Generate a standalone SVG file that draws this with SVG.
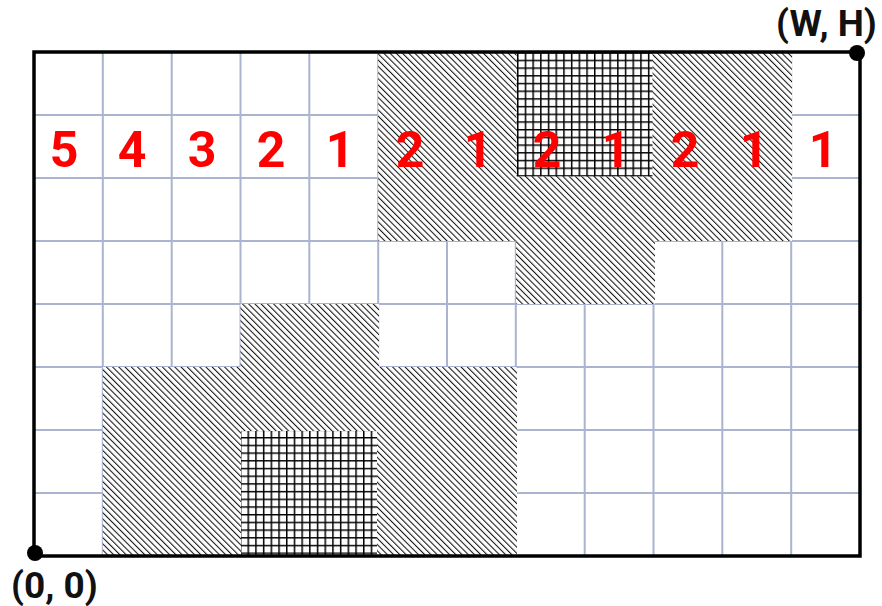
<svg xmlns="http://www.w3.org/2000/svg" width="882" height="606" viewBox="0 0 882 606">
<style>
.grid{stroke:#aab3d0;stroke-width:2;fill:none}
.diag{fill:url(#diag)}
.cross{fill:url(#cross)}
.num{font-family:Roboto,"Liberation Sans",sans-serif;font-weight:bold;font-size:50px;fill:#ff0000;text-anchor:middle}
.lbl{font-family:Roboto,"Liberation Sans",sans-serif;font-weight:bold;font-size:37px;fill:#111}
</style>
<defs>
<pattern id="diag" patternUnits="userSpaceOnUse" width="4.4" height="4.4" patternTransform="rotate(-45)">
<rect width="4.4" height="4.4" fill="#fff"/>
<line x1="0" y1="0" x2="0" y2="4.4" stroke="#111" stroke-width="2.1"/>
</pattern>
<pattern id="cross" patternUnits="userSpaceOnUse" width="7.7" height="7.7" x="517" y="52">
<rect width="7.7" height="7.7" fill="#fff"/>
<path d="M0 0V7.7M0 0H7.7" stroke="#000" stroke-width="3"/>
</pattern>
</defs>
<rect x="34" y="52" width="826" height="504" fill="#fff"/>
<g id="grid" class="grid">
<path d="M102.8 52V556M171.7 52V556M240.5 52V556M309.3 52V556M378.2 52V556M447 52V556M515.8 52V556M584.7 52V556M653.5 52V556M722.3 52V556M791.2 52V556"/>
<path d="M34 115H860M34 178H860M34 241H860M34 304H860M34 367H860M34 430H860M34 493H860"/>
</g>
<g id="top-region">
<path class="diag" d="M378.2 52H792V241H655V304H516V241H378.2Z"/>
<rect class="cross" x="516.5" y="52" width="136" height="124.5"/>
</g>
<g id="bottom-region">
<path class="diag" d="M240.5 304H379V367H517V556H102.8V367H240.5Z"/>
<rect class="cross" x="241" y="431" width="136" height="125"/>
</g>
<g id="numbers">
<text class="num" x="64" y="167">5</text>
<text class="num" x="132" y="167">4</text>
<text class="num" x="202" y="167">3</text>
<text class="num" x="271" y="167">2</text>
<text class="num" x="340" y="167">1</text>
<text class="num" x="410" y="167">2</text>
<text class="num" x="478" y="167">1</text>
<text class="num" x="547" y="167">2</text>
<text class="num" x="616" y="167">1</text>
<text class="num" x="685" y="167">2</text>
<text class="num" x="754" y="167">1</text>
<text class="num" x="823" y="167">1</text>
</g>
<g id="frame">
<rect x="34" y="52" width="826" height="504" fill="none" stroke="#000" stroke-width="3.5"/>
<circle cx="35" cy="553" r="8" fill="#000"/>
<circle cx="857" cy="53" r="8" fill="#000"/>
</g>
<g id="labels">
<text class="lbl" x="11" y="598">(0, 0)</text>
<text class="lbl" x="776" y="36">(W, H)</text>
</g>
</svg>
